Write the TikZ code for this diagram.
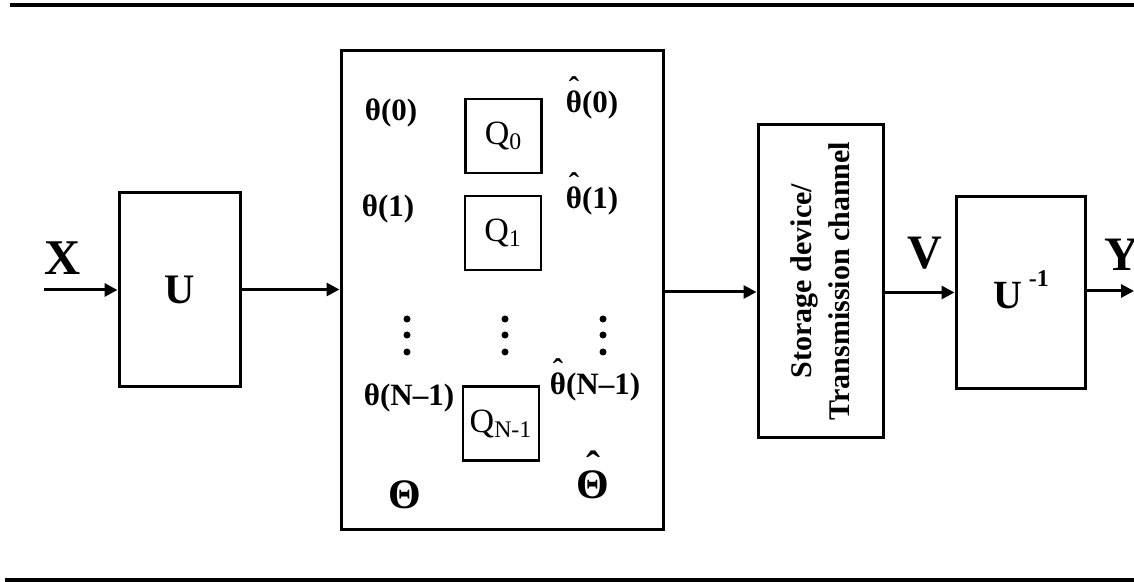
\documentclass[tikz,border=0pt]{standalone}
\usepackage{fontspec}
\setmainfont{Liberation Serif}
\usetikzlibrary{arrows.meta}
\newcommand\hatof[1]{\ooalign{#1\cr\hidewidth\raisebox{0.45em}{ˆ}\hidewidth\cr}}
\begin{document}
\begin{tikzpicture}[x=0.5pt,y=-0.5pt,
  box/.style={draw,line width=1.5pt,inner sep=0pt,font=\bfseries},
  qbox/.style={draw,line width=1.3pt,inner sep=0pt,minimum width=38pt,minimum height=37pt,font=\fontsize{17}{17}\selectfont},
  lbl/.style={inner sep=0pt,font=\bfseries\fontsize{15.5}{15.5}\selectfont},
  big/.style={inner sep=0pt,font=\bfseries\fontsize{25}{25}\selectfont},
  conn/.style={line width=1.5pt,-{Triangle[length=6.5pt,width=6.5pt]}},
  dot/.style={circle,fill=black,inner sep=0pt,minimum size=3.5pt}]
\useasboundingbox (0,0) rectangle (1134,582);
\draw[line width=2pt] (10,5) -- (1134,5);
\draw[line width=2pt] (5,580) -- (1134,580);
% boxes
\node[box,minimum width=60.5pt,minimum height=96.5pt] (U) at (179.5,289.5) {\fontsize{21}{21}\selectfont U};
\node[box,minimum width=161pt,minimum height=239pt] (Q) at (502,290) {};
\node[qbox] (Q0) at (503.5,136) {Q\textsubscript{0}};
\node[qbox] (Q1) at (503,233) {Q\textsubscript{1}};
\node[qbox] (QN) at (501,423.5) {Q\textsubscript{N-1}};
\node[box,minimum width=62.5pt,minimum height=156pt] (S) at (820.5,281) {};
\node[inner sep=0pt,rotate=90,align=center,font=\bfseries\fontsize{15}{19}\selectfont] (St) at (S.center) {Storage device/\\Transmission channel};
\node[box,minimum width=64.5pt,minimum height=95.5pt] (Ui) at (1020.5,292.5) {};
\node[inner sep=0pt,font=\bfseries\fontsize{20}{20}\selectfont] (Uit) at (1021,290) {U\,\raisebox{0.55em}{\fontsize{12}{12}\selectfont -1}};
% labels
\node[big] (X) at (63,258) {X};
\node[big,font=\bfseries\fontsize{24}{24}\selectfont] (V) at (925,253) {V};
\node[big,font=\bfseries\fontsize{24}{24}\selectfont] (Y) at (1122,255) {Y};
\node[lbl] (t0) at (391,113) {θ(0)};
\node[lbl] (t1) at (388,209) {θ(1)};
\node[lbl] (tN) at (409,398) {θ(N–1)};
\node[lbl] (h0) at (592,105) {\hatof{θ}(0)};
\node[lbl] (h1) at (592,201) {\hatof{θ}(1)};
\node[lbl] (hN) at (595,387) {\hatof{θ}(N–1)};
\node[lbl,font=\bfseries\fontsize{21}{21}\selectfont] (T) at (405,495) {Θ};
\node[lbl,font=\bfseries\fontsize{21}{21}\selectfont] (Th) at (593,485) {\hatof{Θ}};
% dots
\foreach \x/\n in {407/a,505/b,603/c}{
  \node[dot] (d\n1) at (\x,319) {};
  \node[dot] (d\n2) at (\x,335) {};
  \node[dot] (d\n3) at (\x,352) {};
}
% connectors
\coordinate (in) at (44,290);
\coordinate (out) at (1134,291);
\draw[conn] (in) -- (in -| U.west);
\draw[conn] (U.east) -- (U.east -| Q.west);
\draw[conn] (Q.east |- S.east) ++(0,11) coordinate (qo) -- (qo -| S.west);
\draw[conn] (S.east |- Ui.west) -- (Ui.west);
\draw[conn] (Ui.east |- out) -- (out);
\end{tikzpicture}
\end{document}
